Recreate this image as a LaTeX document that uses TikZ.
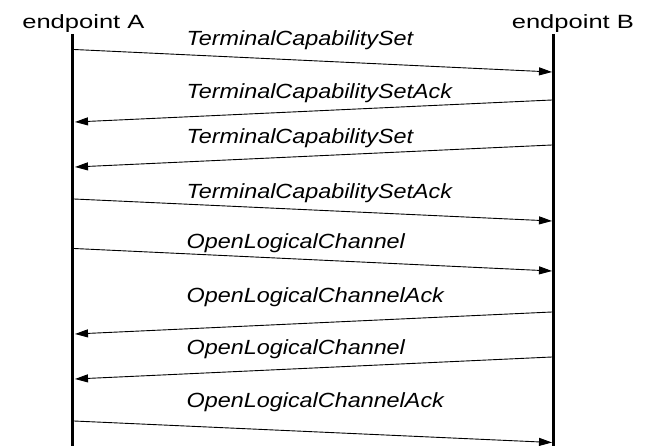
\documentclass[tikz,border=0pt]{standalone}
\usepackage{fontspec}
\setmainfont{Liberation Sans}
\usetikzlibrary{arrows.meta}
\begin{document}
\begin{tikzpicture}[x=1pt,y=-1pt,
  lifeline/.style={line width=3pt},
  msg/.style={line width=0.9pt,-{Triangle[length=13pt,width=8pt]}},
  msglabel/.style={anchor=base west,inner sep=0pt,
    font=\fontsize{20.5}{24}\selectfont\itshape},
  partlabel/.style={anchor=base,inner sep=0pt,
    font=\fontsize{19.2}{23}\selectfont}]
\useasboundingbox (0,0) rectangle (646,446);

% participants
\node[partlabel] (epA) at (83.4,28.3) {\scalebox{1.33}[1]{endpoint A}};
\node[partlabel] (epB) at (572.9,28.3) {\scalebox{1.33}[1]{endpoint B}};

% lifelines
\coordinate (topA) at (72.5,34);
\coordinate (botA) at (72.5,446);
\coordinate (topB) at (553.5,34);
\coordinate (botB) at (553.5,446);
\draw[lifeline] (topA) -- (botA);
\draw[lifeline] (topB) -- (botB);

% message end points on the lifelines
\coordinate (a1) at (74,49.5);   \coordinate (b1) at (552,72);
\coordinate (b2) at (552,100);   \coordinate (a2) at (75,122);
\coordinate (b3) at (552,145);   \coordinate (a3) at (75,167);
\coordinate (a4) at (74,199);    \coordinate (b4) at (552,221);
\coordinate (a5) at (74,248.5);  \coordinate (b5) at (552,271);
\coordinate (b6) at (552,312);   \coordinate (a6) at (75,334);
\coordinate (b7) at (552,357);   \coordinate (a7) at (75,379);
\coordinate (a8) at (74,421);    \coordinate (b8) at (552,442.5);

% messages
\draw[msg] (a1) -- (b1);
\draw[msg] (b2) -- (a2);
\draw[msg] (b3) -- (a3);
\draw[msg] (a4) -- (b4);
\draw[msg] (a5) -- (b5);
\draw[msg] (b6) -- (a6);
\draw[msg] (b7) -- (a7);
\draw[msg] (a8) -- (b8);

% message labels
\node[msglabel] (m1) at (186.5,45.7)  {\scalebox{1.14}[1]{TerminalCapabilitySet}};
\node[msglabel] (m2) at (186.5,99)    {\scalebox{1.14}[1]{TerminalCapabilitySetAck}};
\node[msglabel] (m3) at (186.5,143.3) {\scalebox{1.14}[1]{TerminalCapabilitySet}};
\node[msglabel] (m4) at (186.5,198.3) {\scalebox{1.14}[1]{TerminalCapabilitySetAck}};
\node[msglabel] (m5) at (186.5,248.3) {\scalebox{1.14}[1]{OpenLogicalChannel}};
\node[msglabel] (m6) at (186.5,302.3) {\scalebox{1.14}[1]{OpenLogicalChannelAck}};
\node[msglabel] (m7) at (186.5,354.3) {\scalebox{1.14}[1]{OpenLogicalChannel}};
\node[msglabel] (m8) at (186.5,407.7) {\scalebox{1.14}[1]{OpenLogicalChannelAck}};
\end{tikzpicture}
\end{document}
